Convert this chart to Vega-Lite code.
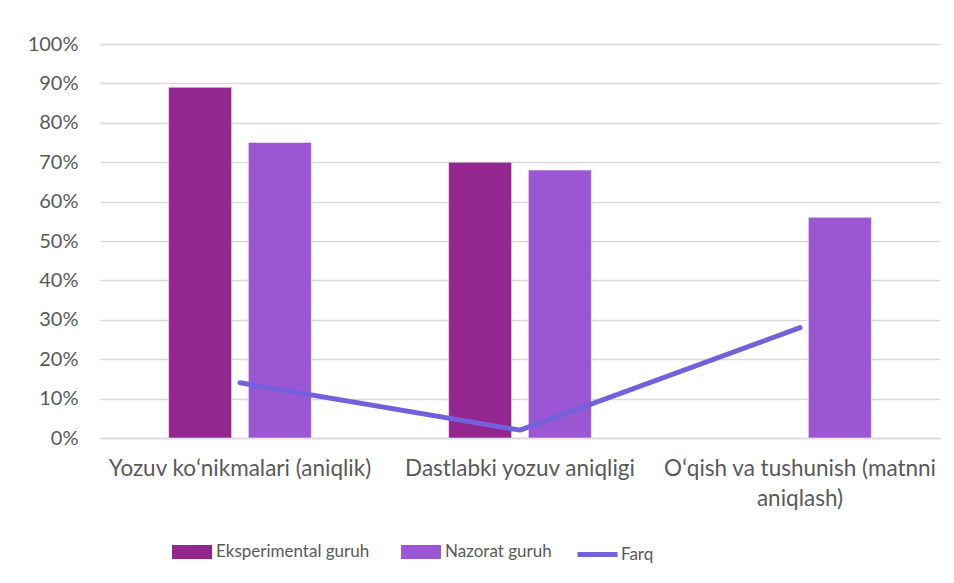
{
  "$schema": "https://vega.github.io/schema/vega-lite/v6.json",
  "width": 840,
  "height": 394,
  "autosize": {"type": "none"},
  "padding": {"left": 100, "top": 44, "right": 14, "bottom": 145},
  "background": "white",
  "config": {
    "font": "Lato",
    "view": {"stroke": null}
  },
  "datasets": {
    "bars": [
      {"category": "Yozuv koʻnikmalari (aniqlik)", "group": "Eksperimental guruh", "value": 0.89},
      {"category": "Yozuv koʻnikmalari (aniqlik)", "group": "Nazorat guruh", "value": 0.75},
      {"category": "Dastlabki yozuv aniqligi", "group": "Eksperimental guruh", "value": 0.70},
      {"category": "Dastlabki yozuv aniqligi", "group": "Nazorat guruh", "value": 0.68},
      {"category": "Oʻqish va tushunish (matnni aniqlash)", "group": "Eksperimental guruh", "value": null},
      {"category": "Oʻqish va tushunish (matnni aniqlash)", "group": "Nazorat guruh", "value": 0.56}
    ],
    "diff": [
      {"category": "Yozuv koʻnikmalari (aniqlik)", "series": "Farq", "value": 0.14},
      {"category": "Dastlabki yozuv aniqligi", "series": "Farq", "value": 0.02},
      {"category": "Oʻqish va tushunish (matnni aniqlash)", "series": "Farq", "value": 0.28}
    ]
  },
  "encoding": {
    "x": {
      "field": "category", "type": "nominal", "sort": null,
      "scale": {"paddingInner": 0.49, "paddingOuter": 0.245},
      "axis": {
        "title": null, "labelAngle": 0, "ticks": false, "domainColor": "#d9d9d9", "domainWidth": 1.5,
        "labelPadding": 19, "labelLineHeight": 30, "labelLimit": 0,
        "labelFont": "Lato", "labelFontSize": 22.5, "labelColor": "#595959",
        "labelExpr": "datum.label == 'Oʻqish va tushunish (matnni aniqlash)' ? ['Oʻqish va tushunish (matnni', 'aniqlash)'] : datum.label"
      }
    },
    "y": {
      "field": "value", "type": "quantitative",
      "scale": {"domain": [0, 1], "nice": false},
      "axis": {
        "title": null, "format": ".0%", "values": [0,0.1,0.2,0.3,0.4,0.5,0.6,0.7,0.8,0.9,1],
        "labelOverlap": false, "tickCount": 20,
        "domain": false, "ticks": false, "labelPadding": 22,
        "labelFont": "Lato", "labelFontSize": 20, "labelColor": "#595959",
        "gridColor": "#d9d9d9", "gridWidth": 1.5
      }
    }
  },
  "layer": [
    {
      "data": {"name": "bars"},
      "mark": {"type": "bar", "strokeWidth": 1, "strokeOpacity": 0.5, "stroke": "#ffffff"},
      "encoding": {
        "xOffset": {"field": "group", "type": "nominal", "sort": ["Eksperimental guruh", "Nazorat guruh"], "scale": {"paddingInner": 0.21, "paddingOuter": 0}},
        "color": {
          "field": "group", "type": "nominal",
          "scale": {"domain": ["Eksperimental guruh", "Nazorat guruh"], "range": ["#92278f", "#9b57d3"]},
          "legend": {
            "title": null, "orient": "none", "direction": "horizontal", "legendX": 72, "legendY": 488,
            "labelFontSize": 17, "labelColor": "#595959", "labelFont": "Lato", "labelOffset": 4, "labelLimit": 0,
            "symbolType": "M-1,-0.35H1V0.35H-1Z", "symbolSize": 1600, "symbolStrokeWidth": 0, "symbolOpacity": 1,
            "columnPadding": 31
          }
        }
      }
    },
    {
      "data": {"name": "diff"},
      "mark": {"type": "line", "strokeWidth": 5, "strokeCap": "round", "strokeJoin": "round"},
      "encoding": {
        "stroke": {
          "field": "series", "type": "nominal",
          "scale": {"domain": ["Farq"], "range": ["#7460db"]},
          "legend": {
            "title": null, "orient": "none", "legendX": 475, "legendY": 488,
            "labelFontSize": 17, "labelColor": "#595959", "labelFont": "Lato", "labelOffset": 1,
            "symbolType": "stroke", "symbolSize": 1600, "symbolStrokeWidth": 5
          }
        }
      }
    }
  ]
}
